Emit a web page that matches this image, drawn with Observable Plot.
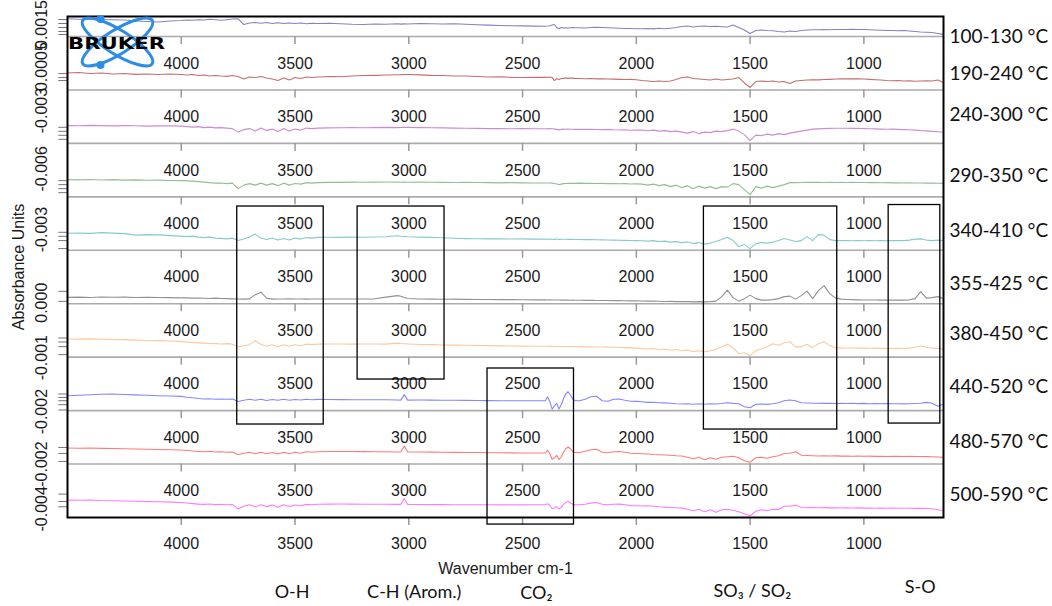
<!DOCTYPE html>
<html><head><meta charset="utf-8">
<script src="https://cdn.jsdelivr.net/npm/d3@7"></script>
<script src="https://cdn.jsdelivr.net/npm/@observablehq/plot@0.6"></script>
<style>
html,body{margin:0;padding:0;background:#fff;}
#wrap{position:relative;width:1052px;height:606px;overflow:hidden;}
#logo{position:absolute;left:0;top:0;pointer-events:none;}
</style></head><body>
<div id="wrap"></div>
<script>
// ---------- DATA ----------
const wavenumbers = [
4500,4450,4400,4350,4300,4250,4200,4150,4100,4050,4000,
3975,3950,3925,3900,3875,3850,3825,3800,3775,3750,3725,3700,3675,3650,3625,3600,3575,3550,3525,3500,3475,3450,3425,3400,
3350,3300,3250,3200,3150,3100,3050,3035,3020,3005,2950,2900,2850,2800,2750,2700,2650,2600,2550,2500,2450,
2400,2390,2380,2370,2360,2350,2340,2330,2320,2310,2300,2290,2280,2270,
2250,2225,2200,2175,2150,2125,2100,2075,2050,2025,2000,
1975,1950,1925,1900,1875,1850,1825,1800,1775,1750,1725,1700,1675,1650,1625,1600,1575,1550,1525,1500,1475,1450,1425,1400,1375,1350,1325,1300,1275,1250,1225,1200,1175,1150,1125,1100,
1075,1050,1025,1000,975,950,925,900,875,850,825,800,775,750,725,700,675,650];

const temperatureRanges = ["100-130 °C","190-240 °C","240-300 °C","290-350 °C","340-410 °C","355-425 °C","380-450 °C","440-520 °C","480-570 °C","500-590 °C"];
const lineColors = ["#8582c4","#c46e6e","#cc8ad5","#8fc08f","#88caca","#929292","#ffc79c","#8686ff","#ff7a7a","#ff7aff"];

// absorbance above each panel's floor (x1e-5 AU)
const abs_100_130 = [
17.7,17.2,17.5,17,16.7,16.5,15.5,15,14.5,15.5,16,
16.5,16.2,16.8,16.5,17.2,16.7,16.2,16.8,17.5,17.7,12,13.5,14,13.2,14,13,13.8,13,13.5,13,13.5,12.8,13.2,13,
13.3,12.8,12.2,12,12.5,12.2,12.7,12.4,12.6,12.5,13,12.7,12.5,12.7,12.2,11.8,11.4,11,10.8,10.6,10.4,
10.3,10.5,10.8,11.5,12,9,7.7,9,8.5,8.7,8.5,8.8,9,8.8,
8.7,8.5,9,9.2,9,8.8,8.5,8.2,8,8,7.8,
7.8,8,7.6,8.2,7.7,8.3,9,10,10.5,9.5,10.3,10.5,10,10.2,9.8,9.5,11.5,9,6.5,3,6,6.5,6,5.7,5,4.5,5.5,5,6,6.5,6.7,6.7,7,6.8,7,7,
7,7.2,7,7,6.7,6.5,6.2,6,6,5.8,6,5.5,5,4.5,4.2,4,3,2];
const abs_190_240 = [
16.9,17.4,16.4,16.9,15.9,16.4,15.6,15.9,15.4,15.9,15.4,
14.9,15.4,14.4,14.9,13.9,14.4,13.9,13.6,14.4,13.4,10.9,12.9,12.4,13.4,11.9,10.9,9.4,11.9,9.9,12.4,11.4,12.9,12.4,12.9,
13.4,13.2,13.9,14.4,14.6,14.9,15.2,15.3,15.5,15.4,15.1,14.6,14.4,13.9,13.9,13.4,12.9,13.1,12.6,12.4,12.6,
12.6,12.7,12.9,12.4,9.4,11.4,10.4,11.4,11.6,11.9,11.6,11.9,11.8,11.6,
11.4,11.2,11.4,11.1,11.2,10.9,10.8,10.6,10.4,10.6,10.2,
9.4,8.9,8.4,8.9,8.4,8.9,10.4,12.4,12.9,11.4,10.9,10.4,9.9,10.9,9.9,10.4,10.9,12.4,7,2.5,8.4,8.9,8.4,8.9,7.9,8.4,6.4,8.9,9.4,9.9,10.1,10.1,10.4,10.6,10.9,11.1,
11.1,11.2,11.1,10.9,10.6,10.2,9.9,9.4,9.2,9.4,8.9,9.1,8.7,8.9,9.2,8.9,9.9,7.4];
const abs_240_300 = [
17.8,17.6,18,17.8,17.5,17.8,17.6,17.3,17.5,17.6,17.3,
16.8,16.3,16.8,15.8,16.3,15.5,15.8,15.3,14.8,11.3,13.8,14.8,12.3,15.3,12.8,14.3,11.8,14.8,12.3,14.3,13.3,15.3,14.8,15.3,
15.5,15.6,15.8,15.6,15.8,16,15.8,15.9,16.1,16,15.8,15.6,15.5,15.3,15.2,15,14.8,14.8,14.6,14.8,14.6,
14.6,14.5,14.8,14.6,14.3,14,13.5,14,14.3,14.2,14.3,14.1,14.2,14,
14.2,14,14.2,13.9,13.8,14,13.6,13.4,13.5,13.2,13.3,
13.3,12.6,13.3,12.3,12.8,11.8,12.3,11.3,10.3,11.8,9.8,11.3,10.8,12.3,11.8,12.8,14.3,12.3,8.8,2.8,8.3,7.8,9.3,8.3,9.8,8.8,10.3,11.3,12.3,13.3,14.3,14.5,14.8,15,15.1,15.1,
15.1,15,15.1,14.8,14.6,14.5,14.3,14.2,14.3,14,13.8,13.6,13.3,12.8,12.5,12,11.6,11.1];
const abs_290_350 = [
17.2,17,17.4,16.9,17.2,16.7,17,16.6,16.7,16.4,16.2,
16,15.7,15.2,14.7,14.2,13.7,13.9,13.2,13.7,8.2,11.7,13.2,11.7,13.7,11.7,13.2,11.2,13.7,11.7,13.4,12.7,14.2,13.7,14.2,
14.5,14.5,14.7,14.6,14.7,14.8,14.7,14.6,14.7,14.6,14.7,14.6,14.5,14.4,14.5,14.3,14.2,14,14.2,14,13.9,
13.9,13.8,13.9,13.7,13.4,12.9,12.2,12.7,13.2,13.4,13.6,13.5,13.6,13.5,
13.7,13.5,13.6,13.4,13.5,13.2,13.3,13.1,13.2,12.9,13,
12.7,11.7,12.7,11.2,12.2,10.2,11.7,9.2,11.2,8.2,10.7,8.7,10.2,8.2,10.2,9.7,13.2,12.2,7.2,2.2,10.2,8.7,10.7,9.2,10.7,12.2,14.2,14.2,14.4,14.5,14.5,14.6,14.4,14.5,14.4,14.5,
14.4,14.5,14.4,14.3,14.2,14.2,14.1,14.2,14,14.1,13.9,14,13.9,13.8,13.7,13.8,13.6,13.5];
const abs_340_410 = [
17,17.2,16.9,17.7,17.2,16.7,15.2,15.7,15.4,14.7,14.2,
13.7,14.2,13.2,12.7,13.2,12.2,11.9,11.4,12.2,9.7,11.2,13.2,16.2,12.2,10.7,12.2,10.2,11.7,10.2,12.2,11.2,12.7,12.2,12.9,
13,12.9,13.2,13.1,13.3,13.5,14.5,14,13.8,13.6,13.2,12.9,12.5,12.1,11.7,11.5,11.4,11.5,11.3,11.4,11.2,
11.2,11.1,11.3,11.1,10.9,11.2,10.7,11,11.1,11,10.9,11,10.9,10.8,
10.8,10.7,10.8,10.5,10.4,10.3,10.2,10,9.9,9.8,9.7,
9.5,9.2,9.7,8.7,9.2,8.2,8.7,7.7,8.2,6.7,7.7,6.2,7.2,8.7,10.7,13,9.7,3.7,5.7,1.7,6.7,7.7,7.2,8.2,9.7,11.7,10.2,8.7,9.7,13.7,9.7,15.7,15.2,10.7,9.7,9.7,
9.7,9.6,9.7,9.5,9.7,9.6,9.7,9.5,9.7,9.7,9.7,10.2,11.2,11.4,10.2,9.7,10.2,9.7];
const abs_355_425 = [
6.4,6.6,6.3,6.8,6.5,6.6,6.3,6.5,6.2,6.1,5.9,
5.9,5.6,5.8,5.5,5.3,5.6,5.3,5.1,4.9,4.8,4.6,4.9,9.1,11.6,5.6,4.6,4.8,4.7,4.9,4.7,4.8,4.6,4.8,4.7,
4.7,4.8,4.7,4.8,4.9,6.6,8.1,7.5,6.2,5.2,4.8,4.6,4.5,4.6,4.4,4.3,4.2,4.1,4.1,4,3.9,
3.9,3.8,3.9,3.8,3.7,3.8,3.7,3.6,3.7,3.6,3.6,3.5,3.6,3.5,
3.5,3.4,3.5,3.3,3.3,3.2,3.1,3.1,3,2.9,2.9,
2.8,2.6,2.7,2.5,2.3,2.4,2.1,2.3,2.1,1.9,2.1,1.9,2.1,2.6,7.1,13.6,6.1,2.6,5.1,8.6,5.1,3.6,3.6,4.1,5.1,7.1,7.6,4.6,8.1,12.6,5.1,13.1,18.1,10.1,5.6,4.6,
4.3,4.1,3.9,3.8,3.7,3.8,3.6,3.7,3.6,3.8,3.6,3.9,5.1,12.1,5.6,6.1,7.1,5.1];
const abs_380_450 = [
18.2,18,18.3,17.9,17.7,17.5,17,16.7,16.5,16.2,15.8,
15,14.7,14.3,14,13.7,13.5,13.2,13.5,13,10.5,11.5,12.5,16.5,13,11,12.5,10.5,12.5,11,12.5,11.5,13,12.5,13,
13.2,13.1,13,13.2,13.1,13,14,13.6,13.4,13.2,12.7,12.5,12.2,12,11.9,11.7,11.5,11.3,11.2,11,10.9,
10.9,10.8,10.9,10.8,10.7,10.8,10.6,10.7,10.6,10.6,10.5,10.6,10.5,10.4,
10.5,10.3,10.4,10.2,10.1,10,9.9,9.7,9.5,9.3,9,
8.7,8.2,8.7,7.7,8.2,7,7.7,6.5,7,5.5,6.5,5.5,6.5,8,10.5,13,9.5,3.5,4.5,1.5,6.5,8.5,10.5,13.5,12,14.5,15.5,10,10.5,13,9.5,13.5,15.5,11.5,9.5,9,
9.2,9.1,9,9.1,8.9,9,8.8,8.9,8.7,8.8,8.6,9,10,11.2,10,9,8.7,8.2];
const abs_440_520 = [
14.9,15.4,15.9,16.4,16.6,16.1,15.7,15.4,14.9,14.6,14.2,
13.4,12.9,12.1,11.6,11.9,11.4,11.6,11.3,11.6,9.2,10.4,11.4,10.4,11.4,10.1,11.1,10.4,11.4,10.3,11.1,10.6,11.3,10.9,11.2,
11.1,11,10.9,10.8,10.9,10.8,10.6,10.5,16,10.5,10.6,10.5,10.4,10.3,10.2,10.1,10,9.9,9.9,9.9,9.9,
9.9,13.9,8.9,1.4,4.9,7.2,1.6,5.9,11.9,16.9,18.9,15.9,11.9,9.9,
9.9,11.4,13.9,14.4,9.9,9.4,11.4,11.6,10.4,9.4,9.2,
8.9,8.2,8.4,7.9,7.7,7.4,6.9,6.6,6.9,6.4,6.9,6.4,6.9,6.6,7.1,7.9,7.2,6.9,3.9,2.9,6.4,6.6,6.2,6.9,7.9,9.9,10.6,9.9,7.9,7.6,7.3,7.4,7.2,7.4,7.1,7.3,
7.1,7.3,7,7.2,6.9,7.1,6.9,7,6.8,6.9,6.7,6.9,7.1,7.4,8.2,7.4,4.4,6.4];
const abs_480_570 = [
16,15.8,16.1,15.7,15.5,15.3,15,14.8,14.5,14.3,14,
13.5,13,12.6,12.3,12.8,12.1,12.3,11.8,12.1,9.3,10.8,11.8,10.3,11.8,10.3,11.5,10,11.8,10.3,11.8,10.8,12.3,11.8,12.3,
12.5,12.6,12.5,12.4,12.3,12.3,12.1,12.1,18,12,12,11.9,11.8,11.7,11.6,11.5,11.3,11.3,11.2,11.1,11,
11,13.8,10.3,4.8,6.3,8.8,4.3,7.3,11.8,15.3,17,15.3,12.8,11.6,
11.6,12.8,14.3,14.8,11.8,11.3,12.3,12.5,11.8,10.8,10.6,
10.3,10,9.5,9.3,9,8.8,8.3,8.1,6.8,5.3,6.8,4.3,6.3,4.8,6.8,7.3,7.8,6.3,3.3,1.8,6.3,6.8,5.8,7.3,8.3,10.6,10.8,12.3,8.8,8.6,8.3,8.1,8.3,8,8.2,7.9,
8.1,7.8,8,7.8,7.9,7.7,7.8,7.6,7.7,7.8,7.6,7.7,7.5,7.6,7.4,7.3,7,6.6];
const abs_500_590 = [
17.4,17.2,17.5,17,16.8,16.5,16.2,15.9,15.7,15.4,15,
14.5,13.9,13.4,13.1,13.5,12.9,13.2,12.7,12.9,8.7,11.2,12.7,10.7,12.7,10.9,12.4,10.2,12.7,10.9,12.5,11.7,13.1,12.7,13.2,
13.4,13.5,13.4,13.3,13.2,13.2,13.1,13.1,19,13,13,12.9,12.9,12.8,12.7,12.7,12.7,12.6,12.7,12.6,12.7,
12.7,13.7,12.2,8.7,9.7,11,8.4,10.2,13.2,15.2,16,14.7,13.2,12.7,
12.7,13.2,14.4,15,13.2,12.7,13.2,13.4,12.7,11.9,11.7,
11.5,11.7,11.2,10.7,10.4,10,9.7,9.4,8.2,6.7,8.2,5.7,7.7,5.2,7.7,8.2,7.2,5.7,3.7,1.7,6.2,7.7,6.7,8.2,7.9,11.2,11.2,12.4,10,9.7,9.9,9.7,9.9,9.6,9.7,9.5,
9.7,9.5,9.6,9.4,9.5,9.3,9.4,9.3,9.4,9.2,9.3,9.2,9.1,9.2,9,8.7,7.7,6.7];

const spectra = [abs_100_130, abs_190_240, abs_240_300, abs_290_350, abs_340_410, abs_355_425, abs_380_450, abs_440_520, abs_480_570, abs_500_590];

const xTickValues = [4000, 3500, 3000, 2500, 2000, 1500, 1000];
const yTickLabels = ["0.0015","0.0005","-0.003","-0.006","-0.003","0.000","-0.001","-0.002","-0.002","-0.004"];
const yLabelHeights = [12, 23.4, 32.8, 28, 20.7, 1, -0.5, -1, 0, 8.7];
const yTickHeights = [[17,13,9,5,2],[16.4,12.4,9.4],[16.1,12.1,8.1,4.1],[16.2,12.2,8.2,4.2],[18,14,9.7,1.7],[12.4,2.4],[19.2,15.2,10.5,2.5],[16.6,13.2,9.9,5.9,0.6],[16.6,10.6,2.6],[23.4,16,10.7]];
const rangeLabelHeights = [-0.5, 16.4, 28.3, 21.2, 19.7, 20.1, 23.5, 23.9, 22.3, 22.7];

const bandNames = ["O-H", "C-H (Arom.)", "CO\u2082", "SO\u2083 / SO\u2082", "S-O"];
const bandHigh = [3754, 3225, 2654, 1703, 891];
const bandLow = [3374, 2843, 2274, 1117, 664];
const bandTop = [3.181, 3.181, 6.212, 3.181, 3.153];
const bandBottom = [7.26, 6.418, 9.132, 7.354, 7.242];
const bandLabelWn = [3513, 2976, 2439, 1490, 752];
const bandLabelU = [10.4, 10.4, 10.42, 10.38, 10.3];

// ---------- LAYOUT ----------
const W = 1052, H = 606;
const MT = 16, MB = 89, ML = 67, MR = 109;
const TOP_FRACTION = 0.3745;
const panelPx = (H - MT - MB) / (9 + TOP_FRACTION);
const toU = (panel, h) => panel - h / panelPx;

const rows = [];
spectra.forEach((vals, i) => {
  if (vals.length !== wavenumbers.length) console.error("length mismatch", i, vals.length, wavenumbers.length);
  vals.forEach((h, j) => rows.push({series: temperatureRanges[i], wn: wavenumbers[j], u: toU(i, h)}));
});
const panelTicks = [];
for (let k = 0; k < 9; k++) for (const t of xTickValues) panelTicks.push({k, t});
const yTickUs = yTickHeights.flatMap((hs, i) => hs.map(h => toU(i, h)));
const yLabelRows = yTickLabels.map((label, i) => ({label, u: toU(i, yLabelHeights[i])}));
const rightRows = temperatureRanges.map((label, i) => ({label, u: toU(i, rangeLabelHeights[i])}));
const bands = bandNames.map((name, i) => ({name, hi: bandHigh[i], lo: bandLow[i], top: bandTop[i], bottom: bandBottom[i], lx: bandLabelWn[i], ly: bandLabelU[i]}));

const SANS = "'Liberation Sans', Arial, Helvetica, sans-serif";
const CAL = "Lato, 'Open Sans', sans-serif";

const chart = Plot.plot({
  width: W, height: H,
  marginTop: MT, marginBottom: MB, marginLeft: ML, marginRight: MR,
  x: {domain: [4500, 650], axis: null},
  y: {domain: [9, -TOP_FRACTION], axis: null},
  color: {domain: temperatureRanges, range: lineColors},
  style: {fontFamily: SANS, background: "white", overflow: "visible"},
  marks: [
    Plot.ruleY(d3.range(9), {stroke: "#ababab", strokeWidth: 1.6}),
    Plot.ruleX(panelTicks, {x: "t", y1: "k", y2: d => d.k + 8 / panelPx, stroke: "#999", strokeWidth: 1.5}),
    Plot.text(panelTicks, {x: "t", y: "k", dy: 27, text: d => String(d.t), fontSize: 16, fill: "#1a1a1a", lineAnchor: "middle"}),
    Plot.axisX({ticks: xTickValues, tickSize: 8, tickPadding: 12, fontSize: 16, stroke: "#999", strokeWidth: 1.5, fill: "#1a1a1a", label: null, tickFormat: d => String(d)}),
    Plot.axisY({ticks: yTickUs, tickSize: 8.7, tickFormat: () => "", stroke: "#777", label: null}),
    Plot.text(yLabelRows, {y: "u", text: "label", frameAnchor: "left", dx: -26, rotate: -90, textAnchor: "middle", lineAnchor: "middle", fontSize: 16, fill: "#1a1a1a"}),
    Plot.text(["Absorbance Units"], {frameAnchor: "left", dx: -49, rotate: -90, textAnchor: "middle", lineAnchor: "middle", fontSize: 16, fill: "#1a1a1a"}),
    Plot.text(["Wavenumber cm-1"], {frameAnchor: "bottom", dy: 51, lineAnchor: "middle", fontSize: 16, fill: "#1a1a1a"}),
    Plot.line(rows, {x: "wn", y: "u", z: "series", stroke: "series", strokeWidth: 1.1, clip: true}),
    Plot.rect(bands, {x1: "hi", x2: "lo", y1: "top", y2: "bottom", fill: "none", stroke: "black", strokeWidth: 1.3}),
    Plot.text(bands, {x: "lx", y: "ly", text: "name", fontFamily: CAL, fontSize: 18, fill: "#111", lineAnchor: "middle"}),
    Plot.text(rightRows, {y: "u", text: "label", frameAnchor: "right", dx: 6, textAnchor: "start", lineAnchor: "middle", fontFamily: CAL, fontSize: 19, fill: "#111"}),
    Plot.frame({stroke: "black", strokeWidth: 2})
  ]
});
const wrap = document.getElementById("wrap");
wrap.appendChild(chart);

// decorative logo
const logo = `<svg id="logo" width="200" height="80" xmlns="http://www.w3.org/2000/svg">
 <g fill="none" stroke="#2b8de6" stroke-width="3">
  <ellipse cx="117.5" cy="42" rx="41" ry="12" transform="rotate(32 117.5 42)"/>
  <ellipse cx="117.5" cy="42" rx="41" ry="12" transform="rotate(-32 117.5 42)"/>
 </g>
 <circle cx="100.5" cy="19" r="4" fill="#2b8de6"/>
 <circle cx="100.5" cy="65" r="4" fill="#2b8de6"/>
 <text x="68" y="48.5" font-family="'DejaVu Sans', sans-serif" font-weight="bold" font-size="15" textLength="97" lengthAdjust="spacingAndGlyphs" fill="#000">BRUKER</text>
</svg>`;
wrap.insertAdjacentHTML("beforeend", logo);
</script>
</body></html>
